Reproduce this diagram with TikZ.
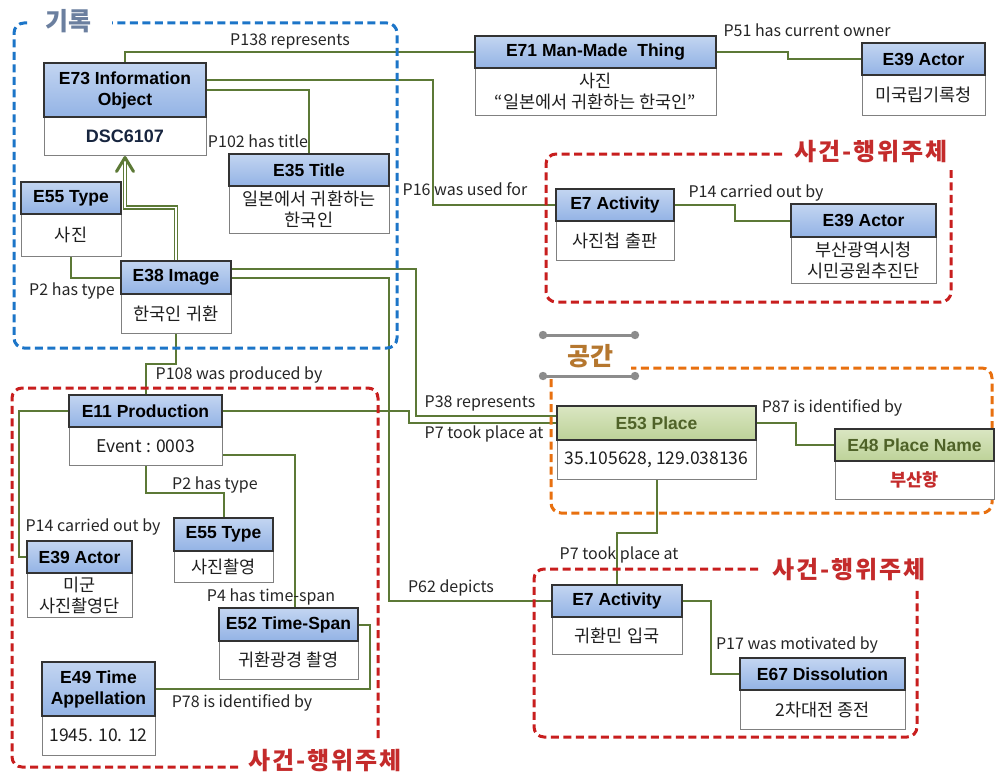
\documentclass[tikz,border=0pt]{standalone}
\usepackage{fontspec}
\setmainfont{Liberation Sans}
\newfontfamily\kr{Noto Sans CJK KR}
\pgfdeclarelayer{lines}
\pgfdeclarelayer{frames}
\pgfsetlayers{lines,frames,main}
\definecolor{olv}{HTML}{5C7936}
\definecolor{hdrtop}{HTML}{C3D5F1}
\definecolor{hdrmid}{HTML}{EFF4FC}
\definecolor{hdrbot}{HTML}{93B3E5}
\definecolor{grntop}{HTML}{DAE6C2}
\definecolor{grnmid}{HTML}{F4F8EC}
\definecolor{grnbot}{HTML}{BDD298}
\definecolor{grntext}{HTML}{4F6228}
\definecolor{frblue}{HTML}{1C75C8}
\definecolor{frred}{HTML}{C81E1E}
\definecolor{frorange}{HTML}{E8700F}
\definecolor{ttlred}{HTML}{C42B2B}
\definecolor{ttlblue}{HTML}{6B7F9F}
\definecolor{ttlbrown}{HTML}{B5772F}
\definecolor{navy}{HTML}{17253F}
\definecolor{bodytext}{HTML}{1E1E1E}
\definecolor{lbltext}{HTML}{262626}
\tikzset{
  hdr/.style={draw=black!80, line width=1.2pt, top color=hdrtop, middle color=hdrmid, bottom color=hdrbot,
    font=\fontsize{17.5}{21}\selectfont\bfseries, align=center, inner sep=0pt, text=black},
  ghdr/.style={draw=black!80, line width=1.2pt, top color=grntop, middle color=grnmid, bottom color=grnbot,
    font=\fontsize{17.5}{21}\selectfont\bfseries, align=center, inner sep=0pt, text=grntext},
  bdy/.style={draw=black!50, line width=1pt, fill=white, font=\kr\fontsize{17.5}{21}\selectfont,
    align=center, inner sep=0pt, text=bodytext},
  conn/.style={draw=olv, line width=2pt},
  dbl/.style={draw=olv, line width=1.4pt, double=white, double distance=1.4pt},
  chev/.style={draw=olv, line width=3pt, line cap=round, line join=round},
  lbl/.style={font=\kr\fontsize{16}{18}\selectfont, text=lbltext, inner sep=0pt},
  frame/.style={line width=3pt, dash pattern=on 8pt off 4.5pt, rounded corners=10pt},
  ttl/.style={font=\kr\fontsize{24}{26}\selectfont\bfseries, inner sep=0pt},
  bar/.style={draw=black!45, line width=3pt},
  bardot/.style={fill=black!45},
}
\newcommand\ebox[9]{%
  \node[bdy, minimum width={#3pt-#2pt}, minimum height={#6pt-#5pt}] (#1) at ({(#2+#3)/2},{(#5+#6)/2}) {#9};
  \node[#7, minimum width={#3pt-#2pt}, minimum height={#5pt-#4pt}] (#1h) at ({(#2+#3)/2},{(#4+#5)/2}) {#8};
}
\begin{document}
\begin{tikzpicture}[x=1pt,y=-1pt]
\useasboundingbox (0,0) rectangle (995,776);
\begin{pgfonlayer}{lines}
\fill[white] (0,0) rectangle (995,776);
\end{pgfonlayer}

% ---------- entity boxes ----------
\ebox{e73}{44}{206}{63}{117}{155}{hdr}{E73 Information\\Object}{\fontspec{Liberation Sans}\fontsize{18}{21}\selectfont\bfseries\color{navy}DSC6107}
\ebox{e35}{229}{389}{154}{186}{233}{hdr}{E35 Title}{일본에서 귀환하는\\한국인}
\ebox{e55a}{21}{121}{182}{214}{256}{hdr}{E55 Type}{사진}
\ebox{e38}{121}{231}{261}{294}{333}{hdr}{E38 Image}{한국인 귀환}
\ebox{e71}{475}{716}{36}{68}{115}{hdr}{E71 Man-Made\ \ Thing}{사진\\“일본에서 귀환하는 한국인”}
\ebox{e39a}{862}{985}{43}{75}{115}{hdr}{E39 Actor}{미국립기록청}
\ebox{e7a}{556}{674}{189}{221}{260}{hdr}{E7 Activity}{사진첩 출판}
\ebox{e39b}{791}{936}{204}{237}{283}{hdr}{E39 Actor}{부산광역시청\\시민공원추진단}
\ebox{e11}{69}{222}{395}{427}{465}{hdr}{E11 Production}{Event : 0003}
\ebox{e39c}{27}{132}{541}{573}{617}{hdr}{E39 Actor}{미군\\사진촬영단}
\ebox{e55b}{174}{273}{518}{551}{582}{hdr}{E55 Type}{사진촬영}
\ebox{e52}{219}{358}{608}{641}{679}{hdr}{E52 Time-Span}{귀환광경 촬영}
\ebox{e49}{42}{155}{662}{716}{755}{hdr}{E49 Time\\Appellation}{1945. 10. 12}
\ebox{e53}{557}{756}{406}{440}{479}{ghdr}{E53 Place}{35.105628, 129.038136}
\ebox{e48}{835}{994}{429}{461}{499}{ghdr}{E48 Place Name}{\bfseries\color{ttlred}부산항}
\ebox{e7b}{552}{682}{585}{617}{654}{hdr}{E7 Activity}{귀환민 입국}
\ebox{e67}{740}{905}{658}{690}{729}{hdr}{E67 Dissolution}{2차대전 종전}

% ---------- connectors ----------
\begin{pgfonlayer}{lines}
\draw[conn] (e73h.north) |- (e71h.west);
\draw[conn] ([yshift=10pt]e73h.east) -- ++(226,0) |- (e7ah.west);
\draw[conn] (e73h.east) -| (e35h.north);
\draw[conn] (e71h.east) -- ++(71,0) |- (e39ah.west);
\draw[conn] (e7ah.east) -- ++(60,0) |- (e39bh.west);
\draw[conn] (e55a.south) |- (e38h.west);
\draw[dbl] (e38h.north) -- ++(0,-53) -| ([yshift=-3pt]e73.south);
\draw[conn] ([yshift=8.5pt]e38h.east) -- ++(184,0) |- ([yshift=7pt]e53h.west);
\draw[conn] (e38h.east) -- ++(157,0) |- (e7bh.west);
\draw[conn] (e38.south) -- ++(0,30) -| (e11h.north);
\draw[conn] (e11h.west) -- ++(-49,0) |- (e39ch.west);
\draw[conn] (e11.south) -- ++(0,27) -| (e55bh.north);
\draw[conn] ([yshift=-9pt]e11.east) -| ([xshift=6pt]e52h.north);
\draw[conn] (e52h.east) -- ++(11,0) |- (e49h.east);
\draw[conn] (e11h.east) -- ++(186,0) |- (e53h.west);
\draw[conn] (e53h.east) -- ++(39,0) |- (e48h.west);
\draw[conn] (e53.south) -- ++(0,53) -| (e7bh.north);
\draw[conn] (e7bh.east) -- ++(28,0) |- (e67h.west);
\end{pgfonlayer}
\draw[chev] ([xshift=-8.5pt,yshift=-16pt]e73.south) -- ([yshift=-2pt]e73.south) -- ([xshift=8.5pt,yshift=-16pt]e73.south);

% ---------- group frames ----------
\begin{pgfonlayer}{frames}
\draw[frame, draw=frblue] (27,23) -- (14,23) -- (14,348) -- (397,348) -- (397,23) -- (112,23);
\draw[frame, draw=frred] (782,154) -- (546,154) -- (546,302) -- (951,302) -- (951,170);
\draw[frame, draw=frred] (378,738) -- (378,388) -- (12,388) -- (12,767) -- (238,767);
\draw[frame, draw=frred] (758,569) -- (534,569) -- (534,737) -- (917,737) -- (917,587);
\draw[frame, draw=frorange] (551,379) -- (551,513) -- (992,513) -- (992,368) -- (631,368);
\draw[bar] (543,335) -- (635,335);
\draw[bar] (543,376) -- (635,376);
\fill[bardot] (543,335) circle (4.2) (635,335) circle (4.2) (543,376) circle (4.2) (635,376) circle (4.2);
\end{pgfonlayer}

% ---------- group titles ----------
\node[ttl, text=ttlblue, font=\kr\fontsize{25}{27}\selectfont\bfseries] (t1) at (68,21) {기록};
\node[ttl, text=ttlbrown, font=\kr\fontsize{25}{27}\selectfont\bfseries] (t2) at (590,356) {공간};
\node[ttl, text=ttlred] (t3) at (871,152) {\addfontfeature{LetterSpace=8}사건-행위주체};
\node[ttl, text=ttlred] (t4) at (325,761) {\addfontfeature{LetterSpace=8}사건-행위주체};
\node[ttl, text=ttlred] (t5) at (849,570) {\addfontfeature{LetterSpace=8}사건-행위주체};

% ---------- property labels ----------
\node[lbl] (l1) at (290,41) {P138 represents};
\node[lbl] (l2) at (258,141) {P102 has title};
\node[lbl] (l3) at (465,189) {P16 was used for};
\node[lbl] (l4) at (807,30) {P51 has current owner};
\node[lbl] (l5) at (756,193) {P14 carried out by};
\node[lbl] (l6) at (72,291) {P2 has type};
\node[lbl] (l7) at (239,375) {P108 was produced by};
\node[lbl] (l8) at (93,527) {P14 carried out by};
\node[lbl] (l9) at (215,485) {P2 has type};
\node[lbl] (l10) at (271,597) {P4 has time-span};
\node[lbl] (l11) at (242,703) {P78 is identified by};
\node[lbl] (l12) at (480,403) {P38 represents};
\node[lbl] (l13) at (484,434) {P7 took place at};
\node[lbl] (l14) at (451,588) {P62 depicts};
\node[lbl] (l15) at (832,408) {P87 is identified by};
\node[lbl] (l16) at (619,555) {P7 took place at};
\node[lbl] (l17) at (797,645) {P17 was motivated by};
\end{tikzpicture}
\end{document}
